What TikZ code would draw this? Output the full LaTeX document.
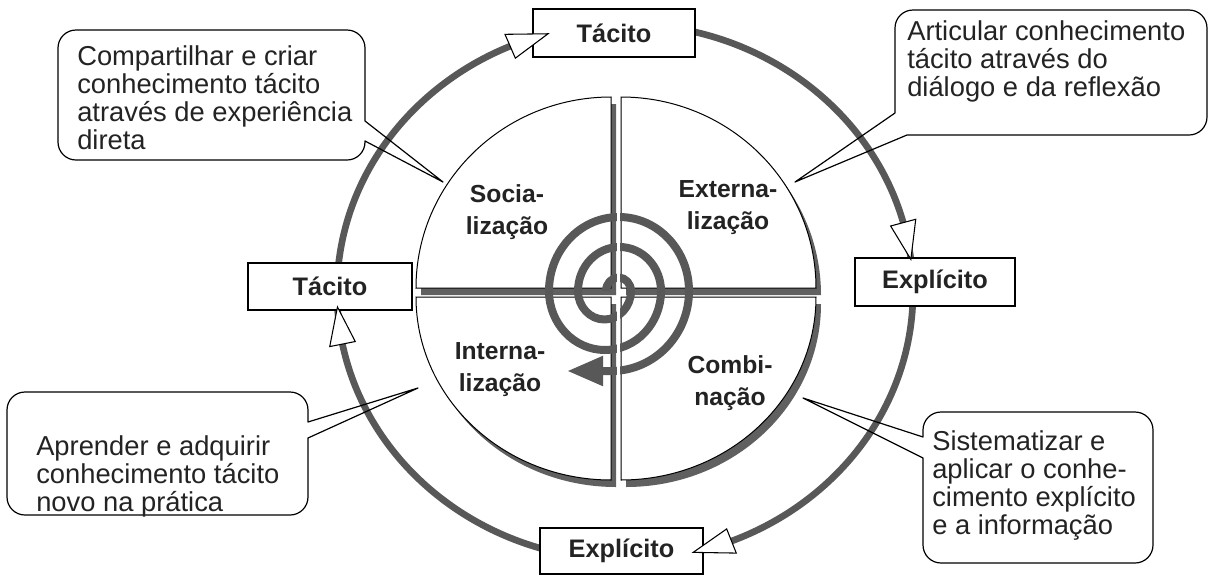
\documentclass[tikz,border=0pt]{standalone}
\usepackage{fontspec}
\setmainfont{Liberation Sans}
\usetikzlibrary{calc,arrows.meta}
\definecolor{ringgray}{RGB}{88,88,88}
\definecolor{shadowgray}{RGB}{96,96,96}
\definecolor{inkcol}{RGB}{35,35,35}
\begin{document}
\begin{tikzpicture}[x=0.75pt,y=-0.75pt,
  ring/.style={draw=ringgray, line width=5pt},
  lbox/.style={draw=black, line width=0.9pt, fill=white, inner sep=0pt, text=inkcol,
    font=\bfseries\fontsize{19}{22}\selectfont},
  ohead/.style={draw=black, fill=white, line width=0.8pt, line join=miter},
  quad/.style={draw=black, fill=white, line width=0.75pt},
  qshadow/.style={fill=shadowgray},
  spiralline/.style={draw=ringgray, line width=6pt, line join=round,
    -{Triangle[length=27pt,width=21pt]}},
  ctext/.style={anchor=north west, align=left, inner sep=0pt, text=inkcol,
    font=\fontsize{20.5}{21}\selectfont},
  cframe/.style={draw=black, line width=0.9pt, line join=round},
  qlabel/.style={align=center, inner sep=0pt, text=inkcol,
    font=\bfseries\fontsize{18.5}{24}\selectfont}
]
\useasboundingbox (0,0) rectangle (1208,576);
\fill[white] (0,0) rectangle (1208,576);

% outer cycle
\coordinate (O) at (625,292);
\path[ring] (O) ellipse [x radius=288, y radius=268];

% boxes on the cycle
\node[lbox, minimum width=121.5pt, minimum height=36pt] (tacT) at (614,33) {Tácito};
\node[lbox, minimum width=123pt, minimum height=35.25pt] (tacL) at (330,286.5) {Tácito};
\node[lbox, minimum width=120pt, minimum height=36pt] (expR) at (935,282) {Explícito};
\node[lbox, minimum width=122.25pt, minimum height=34.5pt] (expB) at (621.5,551) {Explícito};

% open arrowheads on the cycle
\foreach \t/\b in {-105.5/-113.5, -7/-15, 76.3/68.3, 176.8/168.8}
  \draw[ohead] ($(O)+(\b:301 and 281)$) -- ($(O)+(\t:288 and 268)$) -- ($(O)+(\b:275 and 255)$) -- cycle;

% quadrant shadows
\path[qshadow, shift={(5,7)}] (611,288) -- (416,288) arc[start angle=180,end angle=270,x radius=195,y radius=191] -- cycle;
\path[qshadow, shift={(5,7)}] (621,288) -- (621,97) arc[start angle=270,end angle=360,x radius=195,y radius=191] -- cycle;
\path[qshadow, shift={(5,7)}] (611,297) -- (611,480) arc[start angle=90,end angle=180,x radius=195,y radius=183] -- cycle;
\path[qshadow, shift={(5,7)}] (621,297) -- (816,297) arc[start angle=0,end angle=90,x radius=195,y radius=183] -- cycle;
% quadrants
\path[quad] (611,288) -- (416,288) arc[start angle=180,end angle=270,x radius=195,y radius=191] -- cycle;
\path[quad] (621,288) -- (621,97) arc[start angle=270,end angle=360,x radius=195,y radius=191] -- cycle;
\path[quad] (611,297) -- (611,480) arc[start angle=90,end angle=180,x radius=195,y radius=183] -- cycle;
\path[quad] (621,297) -- (816,297) arc[start angle=0,end angle=90,x radius=195,y radius=183] -- cycle;

% spiral
\path[spiralline] (606,291)
  arc[start angle=180,end angle=360,x radius=12.5,y radius=13.5]
  arc[start angle=0,end angle=180,x radius=26.5,y radius=28.5]
  arc[start angle=180,end angle=360,x radius=41.5,y radius=44]
  arc[start angle=0,end angle=180,x radius=56,y radius=59]
  arc[start angle=180,end angle=360,x radius=70,y radius=74]
  arc[start angle=0,end angle=90,x radius=78,y radius=80]
  -- (567,371);
\draw[white, line width=2.25pt] (618.5,200) -- (618.5,383);

% quadrant labels
\node[qlabel] (soc) at (507,212) {Socia-\\lização};
\node[qlabel] (ext) at (728,208) {Externa-\\lização};
\node[qlabel] (int) at (500,370) {Interna-\\lização};
\node[qlabel] (com) at (730,383) {Combi-\\nação};

% callouts
\coordinate (tA) at (443,182);
\coordinate (tB) at (795,182);
\coordinate (tC) at (418,388);
\coordinate (tD) at (803,398);

\path[cframe] (76,30) -- (347,30) arc[start angle=270,end angle=360,radius=18]
  -- (365,121) -- (tA) -- (365,141) -- (365,142) arc[start angle=0,end angle=90,radius=18]
  -- (76,160) arc[start angle=90,end angle=180,radius=18]
  -- (58,48) arc[start angle=180,end angle=270,radius=18] -- cycle;
\node[ctext] (cA) at (77,45) {Compartilhar e criar\\conhecimento tácito\\através de experiência\\direta};

\path[cframe] (913,10) -- (1189,10) arc[start angle=270,end angle=360,radius=18]
  -- (1207,117) arc[start angle=0,end angle=90,radius=18]
  -- (907,135) -- (tB) -- (895,113)
  -- (895,28) arc[start angle=180,end angle=270,radius=18] -- cycle;
\node[ctext] (cB) at (907,20) {Articular conhecimento\\tácito através do\\diálogo e da reflexão};

\path[cframe] (25,392) -- (290,392) arc[start angle=270,end angle=360,radius=18]
  -- (308,422) -- (tC) -- (308,438)
  -- (308,497) arc[start angle=0,end angle=90,radius=18]
  -- (25,515) arc[start angle=90,end angle=180,radius=18]
  -- (7,410) arc[start angle=180,end angle=270,radius=18] -- cycle;
\node[ctext] (cC) at (36,435) {Aprender e adquirir\\conhecimento tácito\\novo na prática};

\path[cframe] (941,412) -- (1135,412) arc[start angle=270,end angle=360,radius=18]
  -- (1153,545) arc[start angle=0,end angle=90,radius=18]
  -- (941,563) arc[start angle=90,end angle=180,radius=18]
  -- (923,458) -- (tD) -- (923,437)
  -- (923,430) arc[start angle=180,end angle=270,radius=18] -- cycle;
\node[ctext] (cD) at (932,430) {Sistematizar e\\aplicar o conhe-\\cimento explícito\\e a informação};
\end{tikzpicture}
\end{document}
